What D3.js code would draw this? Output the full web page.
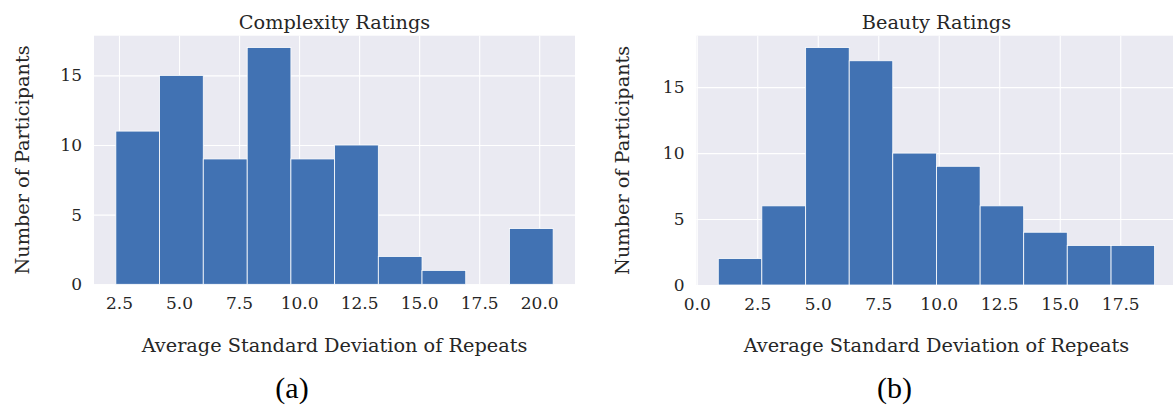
<!DOCTYPE html>
<html>
<head>
<meta charset="utf-8">
<script src="https://cdn.jsdelivr.net/npm/d3@7"></script>
<style>
  html, body { margin: 0; padding: 0; background: #ffffff; }
  svg { display: block; }
  text { fill: #262626; font-family: "DejaVu Serif", serif; }
  .panel-tag { font-family: "Liberation Serif", "Times New Roman", serif; fill: #000; }
</style>
</head>
<body>
<svg id="chart" width="1173" height="408"></svg>
<script>
// Histogram of per-participant average standard deviation of repeated ratings
const complexityEdges = [2.37, 4.19, 6.01, 7.84, 9.66, 11.48, 13.30, 15.12, 16.94, 18.76, 20.58];
const complexityCounts = [11, 15, 9, 17, 9, 10, 2, 1, 0, 4];
const complexityXTicks = [2.5, 5.0, 7.5, 10.0, 12.5, 15.0, 17.5, 20.0];
const complexityYTicks = [0, 5, 10, 15];

const beautyEdges = [0.89, 2.69, 4.50, 6.30, 8.10, 9.91, 11.71, 13.51, 15.31, 17.12, 18.92];
const beautyCounts = [2, 6, 18, 17, 10, 9, 6, 4, 3, 3];
const beautyXTicks = [0.0, 2.5, 5.0, 7.5, 10.0, 12.5, 15.0, 17.5];
const beautyYTicks = [0, 5, 10, 15];

const titles = ["Complexity Ratings", "Beauty Ratings"];
const xLabel = "Average Standard Deviation of Repeats";
const yLabel = "Number of Participants";
const panelTags = ["(a)", "(b)"];

const svg = d3.select("#chart");

const panels = [
  {
    edges: complexityEdges, counts: complexityCounts,
    xTicks: complexityXTicks, yTicks: complexityYTicks,
    title: titles[0], tag: panelTags[0],
    left: 94, right: 575, top: 35.7, bottom: 284.3,
    xDomain: [1.46, 21.49], yMax: 17.85,
    yLabelX: 29, tagX: 292
  },
  {
    edges: beautyEdges, counts: beautyCounts,
    xTicks: beautyXTicks, yTicks: beautyYTicks,
    title: titles[1], tag: panelTags[1],
    left: 696.5, right: 1176.4, top: 35.7, bottom: 285,
    xDomain: [-0.01, 19.82], yMax: 18.9,
    yLabelX: 629, tagX: 894.5
  }
];

// the right-hand panel runs off the page edge
svg.append("defs").append("clipPath").attr("id", "page")
  .append("rect").attr("x", 0).attr("y", 0).attr("width", 1173).attr("height", 408);

panels.forEach(p => {
  const x = d3.scaleLinear().domain(p.xDomain).range([p.left, p.right]);
  const y = d3.scaleLinear().domain([0, p.yMax]).range([p.bottom, p.top]);
  const g = svg.append("g").attr("clip-path", "url(#page)");

  // plot background
  g.append("rect")
    .attr("x", p.left).attr("y", p.top)
    .attr("width", p.right - p.left).attr("height", p.bottom - p.top)
    .attr("fill", "#eaeaf2");

  // grid lines and tick labels
  const xAxis = d3.axisBottom(x).tickValues(p.xTicks)
    .tickSize(-(p.bottom - p.top)).tickPadding(13).tickFormat(d3.format(".1f"));
  const yAxis = d3.axisLeft(y).tickValues(p.yTicks)
    .tickSize(-(p.right - p.left)).tickPadding(12).tickFormat(d3.format("d"));

  const gx = g.append("g").attr("transform", `translate(0,${p.bottom})`).call(xAxis);
  const gy = g.append("g").attr("transform", `translate(${p.left},0)`).call(yAxis);
  [gx, gy].forEach(a => {
    a.select(".domain").remove();
    a.selectAll(".tick line").attr("stroke", "#ffffff").attr("stroke-width", 1.1);
    a.selectAll(".tick text")
      .attr("fill", "#262626")
      .style("font-family", '"DejaVu Serif", serif')
      .style("font-size", "17px");
  });

  // bars
  const bins = p.counts.map((c, i) => ({ x0: p.edges[i], x1: p.edges[i + 1], n: c }));
  g.append("g").selectAll("rect").data(bins.filter(b => b.n > 0)).join("rect")
    .attr("x", d => x(d.x0))
    .attr("y", d => y(d.n))
    .attr("width", d => x(d.x1) - x(d.x0))
    .attr("height", d => y(0) - y(d.n))
    .attr("fill", "#4172b3")
    .attr("stroke", "#ffffff")
    .attr("stroke-width", 0.8);

  const cx = (p.left + p.right) / 2;

  // title
  svg.append("text")
    .attr("x", cx).attr("y", 29)
    .attr("text-anchor", "middle")
    .style("font-size", "19.3px")
    .text(p.title);

  // axis labels
  svg.append("text")
    .attr("x", cx).attr("y", 351.5)
    .attr("text-anchor", "middle")
    .style("font-size", "19.3px")
    .text(xLabel);

  svg.append("text")
    .attr("transform", `translate(${p.yLabelX},${(p.top + p.bottom) / 2}) rotate(-90)`)
    .attr("text-anchor", "middle")
    .style("font-size", "19.3px")
    .text(yLabel);

  // panel tag
  svg.append("text")
    .attr("class", "panel-tag")
    .attr("x", p.tagX).attr("y", 397.5)
    .attr("text-anchor", "middle")
    .style("font-size", "30px")
    .text(p.tag);
});
</script>
</body>
</html>
